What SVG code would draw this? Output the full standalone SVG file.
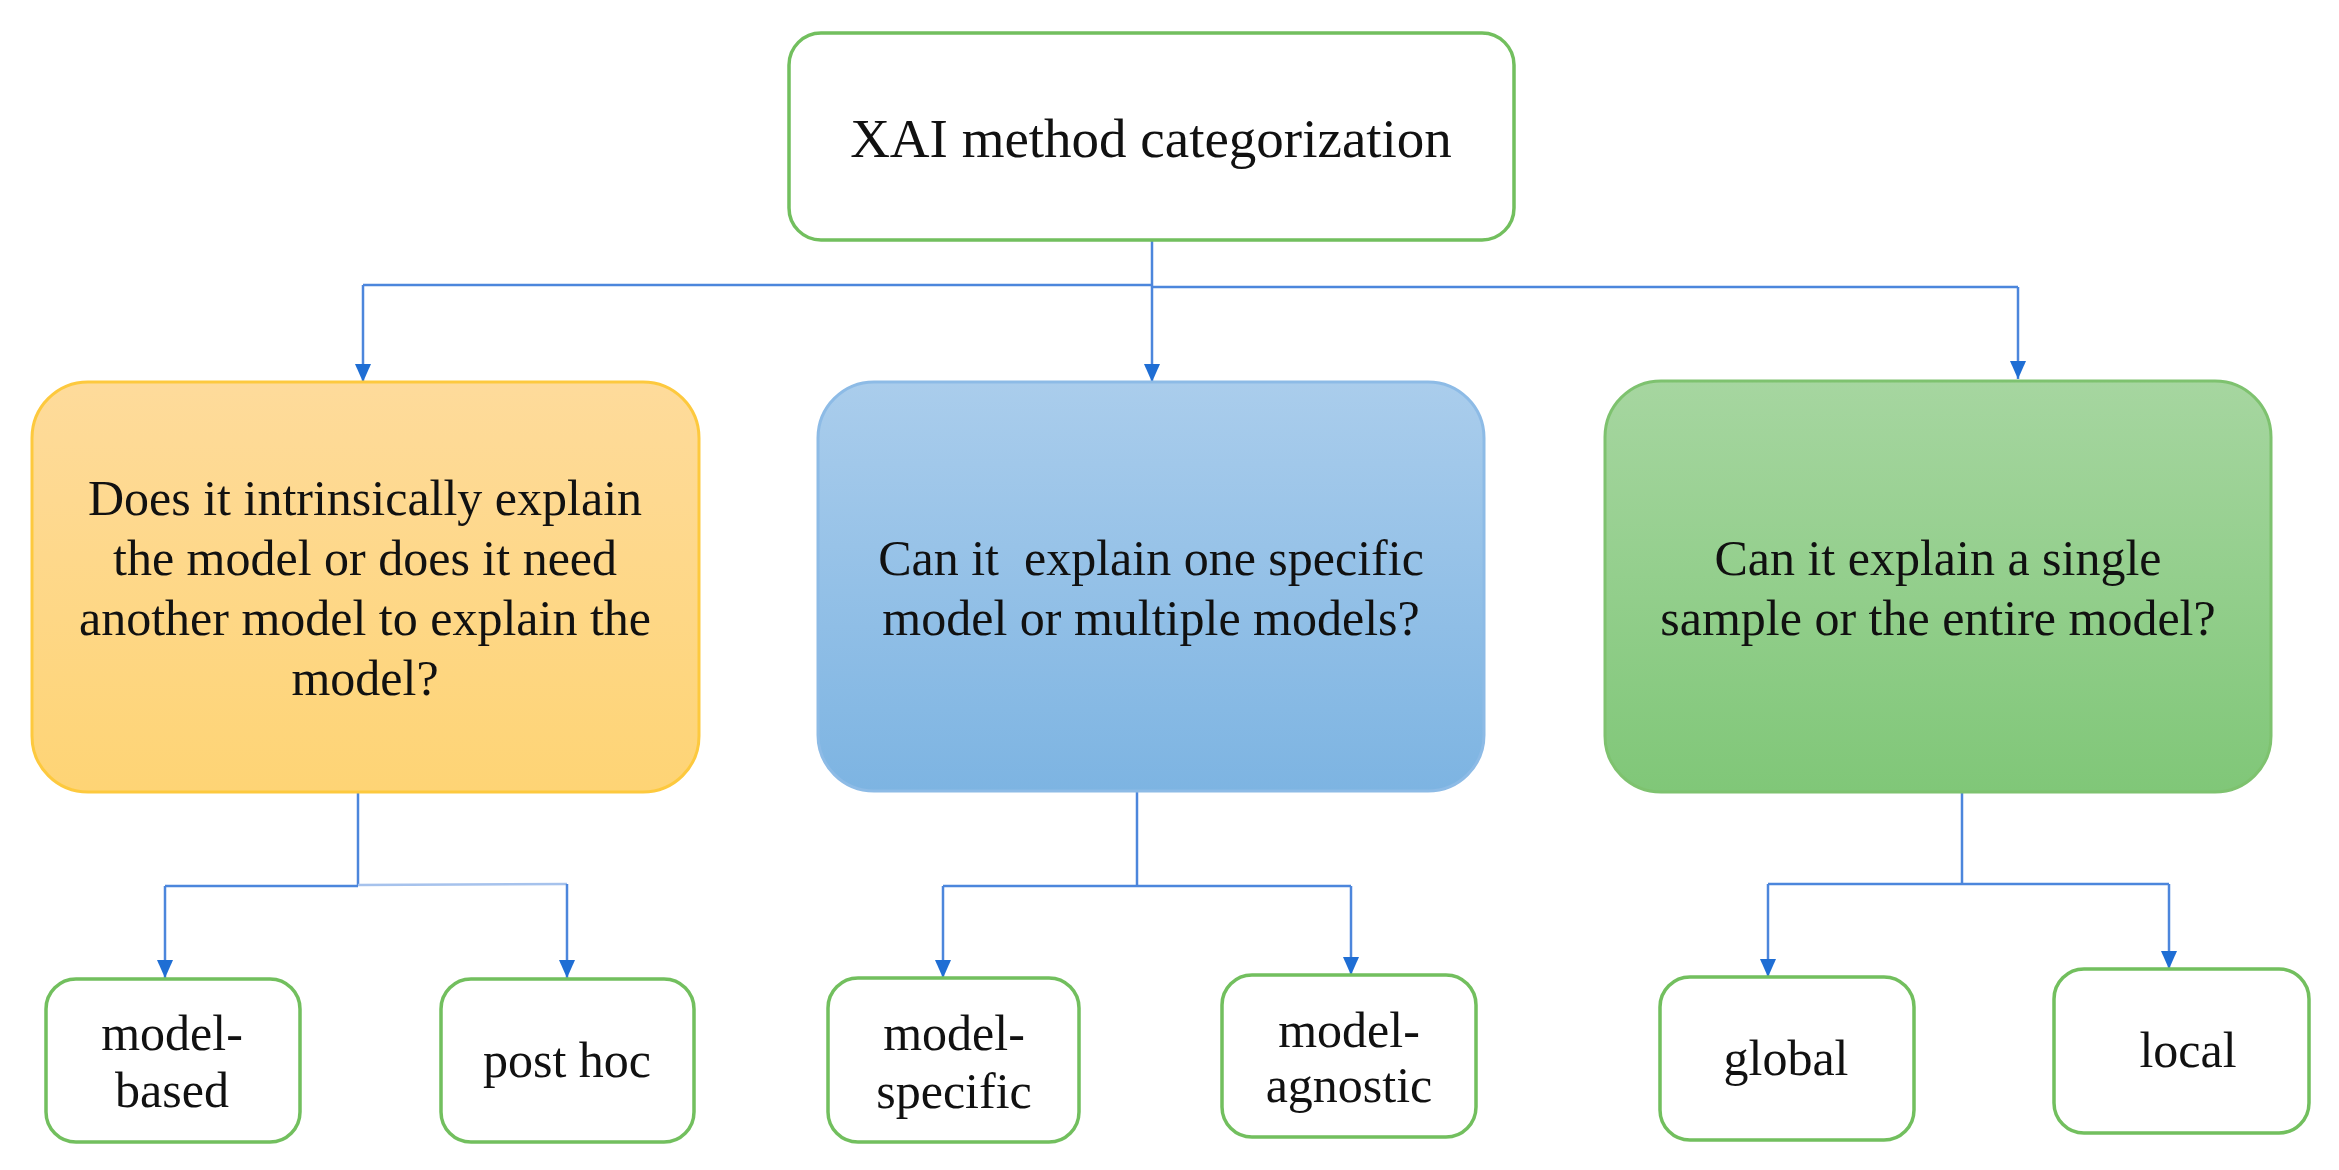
<svg xmlns="http://www.w3.org/2000/svg" width="2339" height="1170" viewBox="0 0 2339 1170">
<style>
  text { font-family: "Liberation Serif", "Times New Roman", serif; fill: #111; text-anchor: middle; }
  .t50 { font-size: 50px; }
  .t55 { font-size: 55px; }
  .leaf { fill: #ffffff; stroke: #72BF5E; stroke-width: 3.5; }
  .conn { fill: none; stroke: #4C86DC; stroke-width: 2.5; }
  .faint { fill: none; stroke: #A6C2EC; stroke-width: 2.5; }
</style>
<defs>
  <marker id="arr" viewBox="0 0 18 16" refX="18" refY="8" markerWidth="18" markerHeight="16" markerUnits="userSpaceOnUse" orient="auto">
    <path d="M0,0 L18,8 L0,16 z" fill="#1F6ED4"/>
  </marker>
  <linearGradient id="gOrange" x1="0" y1="0" x2="0" y2="1">
    <stop offset="0" stop-color="#FEDB9B"/>
    <stop offset="1" stop-color="#FED475"/>
  </linearGradient>
  <linearGradient id="gBlue" x1="0" y1="0" x2="0" y2="1">
    <stop offset="0" stop-color="#AACDEC"/>
    <stop offset="1" stop-color="#7DB4E2"/>
  </linearGradient>
  <linearGradient id="gGreen" x1="0" y1="0" x2="0" y2="1">
    <stop offset="0" stop-color="#A6D6A0"/>
    <stop offset="1" stop-color="#80C778"/>
  </linearGradient>
</defs>
<rect x="0" y="0" width="2339" height="1170" fill="#ffffff"/>

<g id="connectors">
  <line class="conn" x1="1152" y1="240" x2="1152" y2="382" marker-end="url(#arr)"/>
  <line class="conn" x1="363" y1="285" x2="1152" y2="285"/>
  <line class="conn" x1="1152" y1="287" x2="2018" y2="287"/>
  <line class="conn" x1="363" y1="285" x2="363" y2="382" marker-end="url(#arr)"/>
  <line class="conn" x1="2018" y1="287" x2="2018" y2="379" marker-end="url(#arr)"/>

  <line class="conn" x1="358" y1="793" x2="358" y2="886"/>
  <line class="conn" x1="165" y1="886" x2="358" y2="886"/>
  <line class="faint" x1="358" y1="885" x2="567" y2="884"/>
  <line class="conn" x1="165" y1="886" x2="165" y2="978" marker-end="url(#arr)"/>
  <line class="conn" x1="567" y1="884" x2="567" y2="978" marker-end="url(#arr)"/>

  <line class="conn" x1="1137" y1="791" x2="1137" y2="886"/>
  <line class="conn" x1="943" y1="886" x2="1351" y2="886"/>
  <line class="conn" x1="943" y1="886" x2="943" y2="978" marker-end="url(#arr)"/>
  <line class="conn" x1="1351" y1="886" x2="1351" y2="975" marker-end="url(#arr)"/>

  <line class="conn" x1="1962" y1="793" x2="1962" y2="884"/>
  <line class="conn" x1="1768" y1="884" x2="2169" y2="884"/>
  <line class="conn" x1="1768" y1="884" x2="1768" y2="977" marker-end="url(#arr)"/>
  <line class="conn" x1="2169" y1="884" x2="2169" y2="969" marker-end="url(#arr)"/>
</g>

<g id="root">
  <rect x="789" y="33" width="725" height="207" rx="32" ry="32" class="leaf"/>
  <text class="t55" x="1151" y="157">XAI method categorization</text>
</g>

<g id="q-intrinsic">
  <rect x="32" y="382" width="667" height="410" rx="56" ry="56" fill="url(#gOrange)" stroke="#FDC93E" stroke-width="3"/>
  <text class="t50" x="365" y="515">Does it intrinsically explain</text>
  <text class="t50" x="365" y="575">the model or does it need</text>
  <text class="t50" x="365" y="635">another model to explain the</text>
  <text class="t50" x="365" y="695">model?</text>
</g>

<g id="q-specific">
  <rect x="818" y="382" width="666" height="409" rx="56" ry="56" fill="url(#gBlue)" stroke="#8DBBE6" stroke-width="3"/>
  <text class="t50" x="1151" y="575" xml:space="preserve">Can it  explain one specific</text>
  <text class="t50" x="1151" y="635">model or multiple models?</text>
</g>

<g id="q-scope">
  <rect x="1605" y="381" width="666" height="411" rx="56" ry="56" fill="url(#gGreen)" stroke="#7EC26F" stroke-width="3"/>
  <text class="t50" x="1938" y="575">Can it explain a single</text>
  <text class="t50" x="1938" y="635">sample or the entire model?</text>
</g>

<g id="model-based">
  <rect x="46" y="979" width="254" height="163" rx="30" ry="30" class="leaf"/>
  <text class="t50" x="172" y="1050">model-</text>
  <text class="t50" x="172" y="1107">based</text>
</g>

<g id="post-hoc">
  <rect x="441" y="979" width="253" height="163" rx="30" ry="30" class="leaf"/>
  <text class="t50" x="567" y="1077">post hoc</text>
</g>

<g id="model-specific">
  <rect x="828" y="978" width="251" height="164" rx="30" ry="30" class="leaf"/>
  <text class="t50" x="954" y="1050">model-</text>
  <text class="t50" x="954" y="1108">specific</text>
</g>

<g id="model-agnostic">
  <rect x="1222" y="975" width="254" height="162" rx="30" ry="30" class="leaf"/>
  <text class="t50" x="1349" y="1047">model-</text>
  <text class="t50" x="1349" y="1102">agnostic</text>
</g>

<g id="global">
  <rect x="1660" y="977" width="254" height="163" rx="30" ry="30" class="leaf"/>
  <text class="t50" x="1786" y="1075">global</text>
</g>

<g id="local">
  <rect x="2054" y="969" width="255" height="164" rx="30" ry="30" class="leaf"/>
  <text class="t50" x="2188" y="1067">local</text>
</g>
</svg>
